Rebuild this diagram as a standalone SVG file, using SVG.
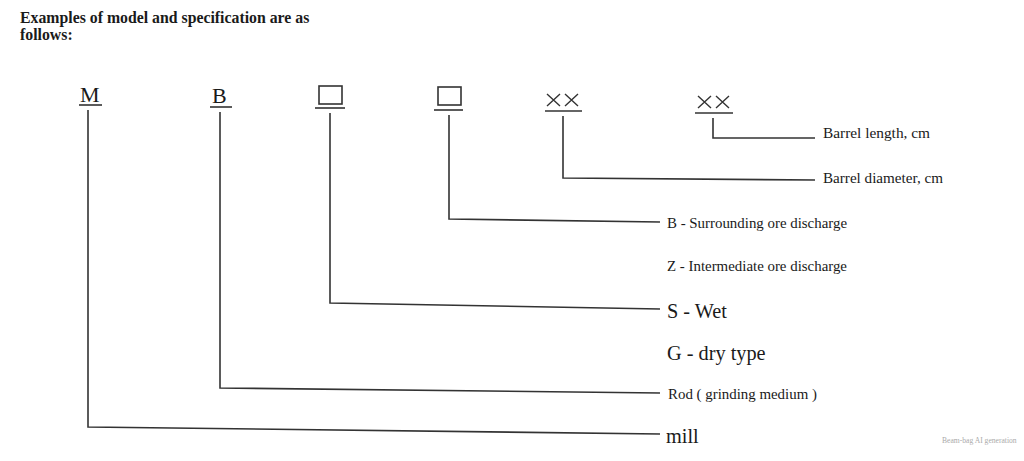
<svg xmlns="http://www.w3.org/2000/svg" width="1024" height="461" viewBox="0 0 1024 461">
<style>
.t{font-family:"Liberation Serif","Times New Roman",serif;fill:#1a1a1a}
.h{font-weight:bold;font-size:15.8px}
.s{font-size:14.9px}
.l{font-size:20.3px}
.code{font-size:22px}
.c{fill:none;stroke:#333;stroke-width:1.6}
.u{stroke:#333;stroke-width:1.6}
.box{fill:none;stroke:#333;stroke-width:1.6}
.x{stroke:#333;stroke-width:1.4}
</style>
<rect width="1024" height="461" fill="#fff"/>
<g id="title">
<text class="t h" x="20" y="23">Examples of model and specification are as</text>
<text class="t h" x="20" y="40">follows:</text>
</g>
<g id="node-M">
<text class="t code" x="80" y="102">M</text>
<line class="u" x1="79" y1="105" x2="102" y2="105"/>
</g>
<g id="node-B">
<text class="t code" x="212" y="103">B</text>
<line class="u" x1="210" y1="107" x2="232" y2="107"/>
</g>
<g id="node-box1">
<rect class="box" x="319" y="86" width="23" height="18"/>
<line class="u" x1="315" y1="108" x2="345" y2="108"/>
</g>
<g id="node-box2">
<rect class="box" x="438" y="87" width="23" height="18"/>
<line class="u" x1="434" y1="110" x2="463" y2="110"/>
</g>
<g id="node-xx1">
<path class="x" d="M547 94 L560 106 M560 94 L547 106 M565 94 L578 106 M578 94 L565 106"/>
<line class="u" x1="545" y1="111" x2="582" y2="111"/>
</g>
<g id="node-xx2">
<path class="x" d="M698 96 L711 108 M711 96 L698 108 M716 96 L729 108 M729 96 L716 108"/>
<line class="u" x1="695" y1="113" x2="733" y2="113"/>
</g>
<g id="labels">
<text class="t s" x="823" y="138" textLength="107" lengthAdjust="spacingAndGlyphs">Barrel length, cm</text>
<text class="t s" x="823" y="183" textLength="120" lengthAdjust="spacingAndGlyphs">Barrel diameter, cm</text>
<text class="t s" x="667" y="228">B - Surrounding ore discharge</text>
<text class="t s" x="667" y="271">Z - Intermediate ore discharge</text>
<text class="t l" x="667" y="318">S - Wet</text>
<text class="t l" x="667" y="360">G - dry type</text>
<text class="t s" x="668" y="399">Rod ( grinding medium )</text>
<text class="t l" x="666" y="443">mill</text>
<text x="942" y="443" style="font-family:'Liberation Serif',serif;font-size:7.6px;fill:#aaa">Beam-bag AI generation</text>
</g>
<g id="connectors">
<polyline class="c" points="713,118 713,138 815,138"/>
<polyline class="c" points="563,116 563,178 815,180"/>
<polyline class="c" points="449,115 449,219 660,222"/>
<polyline class="c" points="330,113 330,303 660,309"/>
<polyline class="c" points="220,112 220,388 660,393"/>
<polyline class="c" points="88,110 88,427 660,434"/>
</g>
</svg>
